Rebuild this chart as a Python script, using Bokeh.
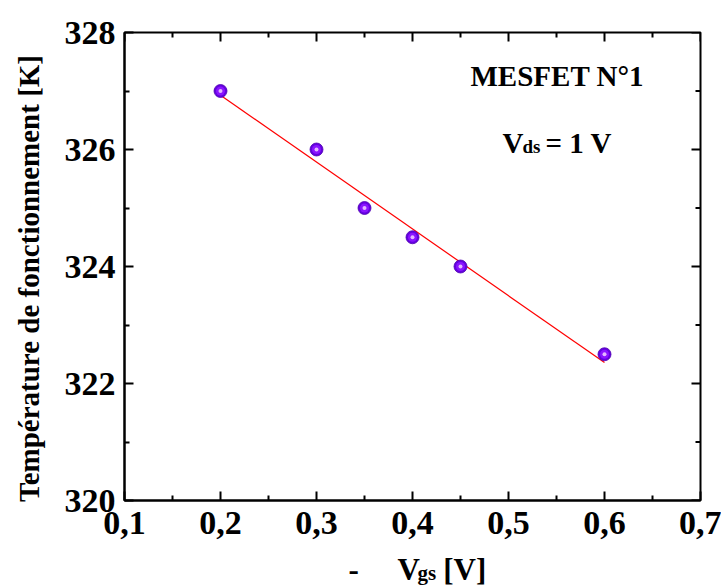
import numpy as np
from bokeh.plotting import figure
from bokeh.models import Range1d, FixedTicker, LinearAxis, Label
from bokeh.embed import file_html
from bokeh.resources import INLINE

# ---- data ----
vgs = [0.2, 0.3, 0.35, 0.4, 0.45, 0.6]
temp = [327.0, 326.0, 325.0, 324.5, 324.0, 322.5]
x_ticks = [0.1, 0.2, 0.3, 0.4, 0.5, 0.6, 0.7]
x_tick_labels = ["0,1", "0,2", "0,3", "0,4", "0,5", "0,6", "0,7"]
x_minor = [0.15, 0.25, 0.35, 0.45, 0.55, 0.65]
y_ticks = [320, 322, 324, 326, 328]
y_tick_labels = ["320", "322", "324", "326", "328"]
y_minor = [321, 323, 325, 327]
X0, X1 = 0.1, 0.7
Y0, Y1 = 320, 328

# linear fit of the data
slope, icpt = np.polyfit(vgs, temp, 1)
fit_x = [min(vgs), max(vgs)]
fit_y = [slope * v + icpt for v in fit_x]

FONT = "Liberation Serif"

p = figure(width=721, height=588, output_backend="svg", toolbar_location=None,
           x_range=Range1d(X0, X1), y_range=Range1d(Y0, Y1),
           x_axis_location=None, y_axis_location=None,
           min_border_left=124, min_border_right=21, min_border_top=32, min_border_bottom=88)
p.grid.visible = False
p.outline_line_color = "black"
p.outline_line_width = 2
p.background_fill_color = "white"
p.border_fill_color = "white"

xt = FixedTicker(ticks=x_ticks, minor_ticks=x_minor)
yt = FixedTicker(ticks=y_ticks, minor_ticks=y_minor)


def style(ax):
    ax.axis_line_width = 2
    ax.major_tick_line_width = 2
    ax.minor_tick_line_width = 2
    ax.major_tick_in = 9
    ax.major_tick_out = 0
    ax.minor_tick_in = 5
    ax.minor_tick_out = 0
    ax.major_label_text_font = FONT
    ax.major_label_text_font_style = "bold"
    ax.major_label_text_color = "black"
    ax.major_label_text_font_size = "34px"


bx = LinearAxis(ticker=xt, major_label_overrides=dict(zip(x_ticks, x_tick_labels)))
style(bx)
bx.major_label_standoff = 11
p.add_layout(bx, "below")
ly = LinearAxis(ticker=yt, major_label_overrides=dict(zip(y_ticks, y_tick_labels)))
style(ly)
ly.major_label_standoff = 9
p.add_layout(ly, "left")

# inward ticks on the top and right edges (half of each dash is clipped by the frame)
p.scatter(x_ticks, [Y1] * len(x_ticks), marker="dash", angle=np.pi / 2, size=18,
          line_color="black", line_width=2)
p.scatter(x_minor, [Y1] * len(x_minor), marker="dash", angle=np.pi / 2, size=10,
          line_color="black", line_width=2)
p.scatter([X1] * len(y_ticks), y_ticks, marker="dash", size=18, line_color="black", line_width=2)
p.scatter([X1] * len(y_minor), y_minor, marker="dash", size=10, line_color="black", line_width=2)

# fit line and markers
p.line(fit_x, fit_y, line_color="red", line_width=1.2)
p.scatter(vgs, temp, size=13, fill_color="#6400e0", line_color="#4e00b0", line_width=0.8)
p.scatter(vgs, temp, size=9, fill_color="#8a14ff", line_color=None)
p.scatter(vgs, temp, size=4, fill_color="#ecc8ff", line_color=None, fill_alpha=0.9)


# canvas pixel -> data coordinates (for text placement only)
def dx(px):
    return X0 + (px - 124) / 576 * (X1 - X0)


def dy(py):
    return Y0 + (500 - py) / 468 * (Y1 - Y0)


def lab(x, y, t, size, place=None, **kw):
    l = Label(x=dx(x), y=dy(y), text=t, text_font=FONT, text_font_style="bold",
              text_font_size=size, text_color="black", **kw)
    if place:
        p.add_layout(l, place)
    else:
        p.add_layout(l)


NB = "\u00a0"
# y axis title
lab(28, 278, "Température de fonctionnement [K]", "29px", "left", angle=np.pi / 2,
    text_align="center", text_baseline="middle")

# x axis title: "-   V_gs [V]"
lab(348, 569, "-" + NB * 5 + "V" + NB * 3 + "[V]", "31px", "below",
    text_align="left", text_baseline="alphabetic")
lab(417, 572, "gs", "21px", "above", text_align="left", text_baseline="alphabetic")

# annotations
lab(470, 75, "MESFET N°1", "29px", text_align="left", text_baseline="alphabetic")
lab(502, 142, "V", "29px", text_align="left", text_baseline="alphabetic")
lab(522, 146, "ds", "19px", text_align="left", text_baseline="alphabetic")
lab(545, 142, "= 1 V", "29px", text_align="left", text_baseline="alphabetic")

open("out.html", "w").write(file_html(p, INLINE))
